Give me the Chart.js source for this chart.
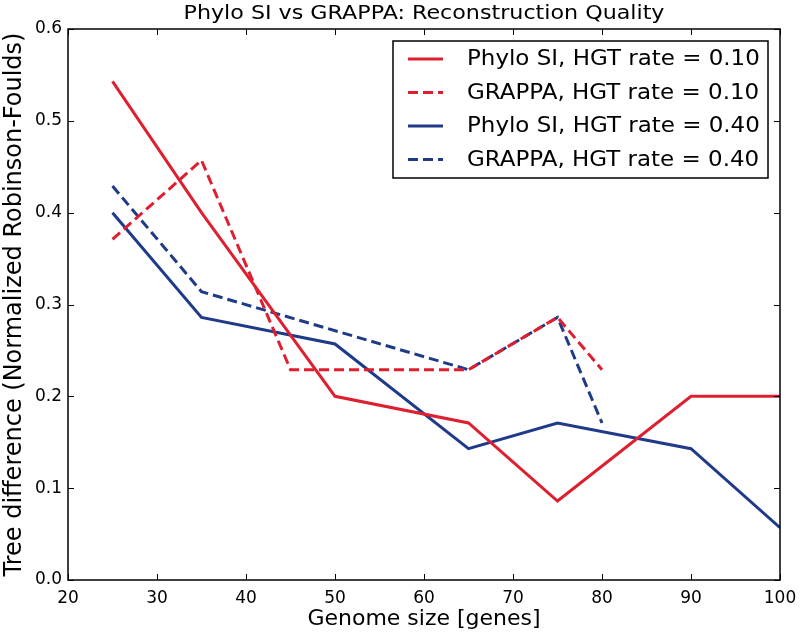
<!DOCTYPE html>
<html>
<head>
<meta charset="utf-8">
<script src="https://cdn.jsdelivr.net/npm/chart.js@4"></script>
<style>
  html, body { margin: 0; padding: 0; background: #fff; }
  #wrap { width: 800px; height: 635px; }
</style>
</head>
<body>
<div id="wrap"><canvas id="chart" width="800" height="635"></canvas></div>
<script>
// Chart data
const seriesLabels = [
    'Phylo SI, HGT rate = 0.10',
    'GRAPPA, HGT rate = 0.10',
    'Phylo SI, HGT rate = 0.40',
    'GRAPPA, HGT rate = 0.40'
];
const phyloLowX = [25, 35, 50, 65, 75, 90, 100];
const phyloLowY = [0.543, 0.400, 0.200, 0.171, 0.086, 0.200, 0.200];
const grappaLowX = [25, 35, 45, 65, 75, 80];
const grappaLowY = [0.371, 0.457, 0.229, 0.229, 0.286, 0.229];
const phyloHighX = [25, 35, 50, 65, 75, 90, 100];
const phyloHighY = [0.400, 0.286, 0.257, 0.143, 0.171, 0.143, 0.057];
const grappaHighX = [25, 35, 65, 75, 80];
const grappaHighY = [0.429, 0.314, 0.229, 0.286, 0.171];
const xTicks = [20, 30, 40, 50, 60, 70, 80, 90, 100];
const yTicks = [0.0, 0.1, 0.2, 0.3, 0.4, 0.5, 0.6];

const RED = '#de1f30';
const BLUE = '#1f3a88';
const FONT = "'DejaVu Sans', sans-serif";

function toPoints(xs, ys) {
    return xs.map((x, i) => ({ x: x, y: ys[i] }));
}

function makeSet(label, xs, ys, color, dashed) {
    return {
        label: label,
        data: toPoints(xs, ys),
        borderColor: color,
        backgroundColor: color,
        borderWidth: 3,
        borderDash: dashed ? [10, 5] : [],
        pointRadius: 0,
        tension: 0,
        fill: false
    };
}

// text drawn a bit wider than tall, like the reference
function wideText(ctx, text, x, y, sx) {
    ctx.save();
    ctx.translate(x, y);
    ctx.scale(sx, 1);
    ctx.fillText(text, 0, 0);
    ctx.restore();
}

// Inner ticks on all sides, frame, title and boxed legend (matplotlib look)
const mplLook = {
    id: 'mplLook',
    afterDatasetsDraw(chart) {
        const ctx = chart.ctx;
        const a = chart.chartArea;
        const xs = chart.scales.x, ys = chart.scales.y;
        const len = 6;
        ctx.save();
        ctx.strokeStyle = '#000';
        ctx.lineWidth = 1;
        ctx.beginPath();
        xTicks.forEach(v => {
            const px = Math.round(xs.getPixelForValue(v)) + 0.5;
            ctx.moveTo(px, a.bottom); ctx.lineTo(px, a.bottom - len);
            ctx.moveTo(px, a.top); ctx.lineTo(px, a.top + len);
        });
        yTicks.forEach(v => {
            const py = Math.round(ys.getPixelForValue(v)) + 0.5;
            ctx.moveTo(a.left, py); ctx.lineTo(a.left + len, py);
            ctx.moveTo(a.right, py); ctx.lineTo(a.right - len, py);
        });
        ctx.stroke();
        ctx.lineWidth = 1.5;
        ctx.strokeRect(a.left, a.top, a.right - a.left, a.bottom - a.top);

        // title
        ctx.fillStyle = '#000';
        ctx.font = '20px ' + FONT;
        ctx.textAlign = 'center';
        ctx.textBaseline = 'middle';
        wideText(ctx, 'Phylo SI vs GRAPPA: Reconstruction Quality', (a.left + a.right) / 2, 14, 1.11);

        // legend box
        const bx = 393, by = 41, bw = 375, bh = 137;
        ctx.fillStyle = '#fff';
        ctx.fillRect(bx, by, bw, bh);
        ctx.strokeStyle = '#000';
        ctx.lineWidth = 1.5;
        ctx.strokeRect(bx, by, bw, bh);
        ctx.font = '20.5px ' + FONT;
        ctx.textAlign = 'left';
        chart.data.datasets.forEach((ds, i) => {
            const ly = by + 18 + i * 33.5;
            ctx.strokeStyle = ds.borderColor;
            ctx.lineWidth = 3;
            ctx.setLineDash(ds.borderDash);
            ctx.beginPath();
            ctx.moveTo(bx + 15, ly);
            ctx.lineTo(bx + 50, ly);
            ctx.stroke();
            ctx.setLineDash([]);
            ctx.fillStyle = '#000';
            wideText(ctx, ds.label, bx + 74, ly + 1, 1.12);
        });
        ctx.restore();
    }
};

const ctx = document.getElementById('chart').getContext('2d');
new Chart(ctx, {
    type: 'line',
    data: {
        datasets: [
            makeSet(seriesLabels[0], phyloLowX, phyloLowY, RED, false),
            makeSet(seriesLabels[1], grappaLowX, grappaLowY, RED, true),
            makeSet(seriesLabels[2], phyloHighX, phyloHighY, BLUE, false),
            makeSet(seriesLabels[3], grappaHighX, grappaHighY, BLUE, true)
        ]
    },
    options: {
        responsive: false,
        animation: false,
        layout: { padding: { top: 29, right: 20, left: 0, bottom: 0 } },
        plugins: {
            legend: { display: false },
            title: { display: false },
            tooltip: { enabled: false }
        },
        scales: {
            x: {
                type: 'linear',
                min: 20,
                max: 100,
                afterBuildTicks: axis => { axis.ticks = xTicks.map(v => ({ value: v })); },
                afterFit: axis => {
                    axis.height = 55;
                    axis.paddingLeft = 0;
                    axis.paddingRight = 0;
                },
                grid: { display: false, drawTicks: false },
                border: { display: false },
                ticks: { color: '#000', font: { family: FONT, size: 17 }, padding: 8, maxRotation: 0 },
                title: {
                    display: true,
                    text: 'Genome size [genes]',
                    color: '#000',
                    font: { family: FONT, size: 22 },
                    padding: { top: 0, bottom: 3 }
                }
            },
            y: {
                min: 0,
                max: 0.6,
                afterBuildTicks: axis => { axis.ticks = yTicks.map(v => ({ value: v })); },
                afterFit: axis => { axis.width = 68; },
                grid: { display: false, drawTicks: false },
                border: { display: false },
                ticks: {
                    color: '#000',
                    font: { family: FONT, size: 17 },
                    padding: 6,
                    callback: v => Number(v).toFixed(1)
                },
                title: {
                    display: true,
                    text: 'Tree difference (Normalized Robinson-Foulds)',
                    color: '#000',
                    font: { family: FONT, size: 24 },
                    padding: { top: 0, bottom: 0 }
                }
            }
        }
    },
    plugins: [mplLook]
});
</script>
</body>
</html>
